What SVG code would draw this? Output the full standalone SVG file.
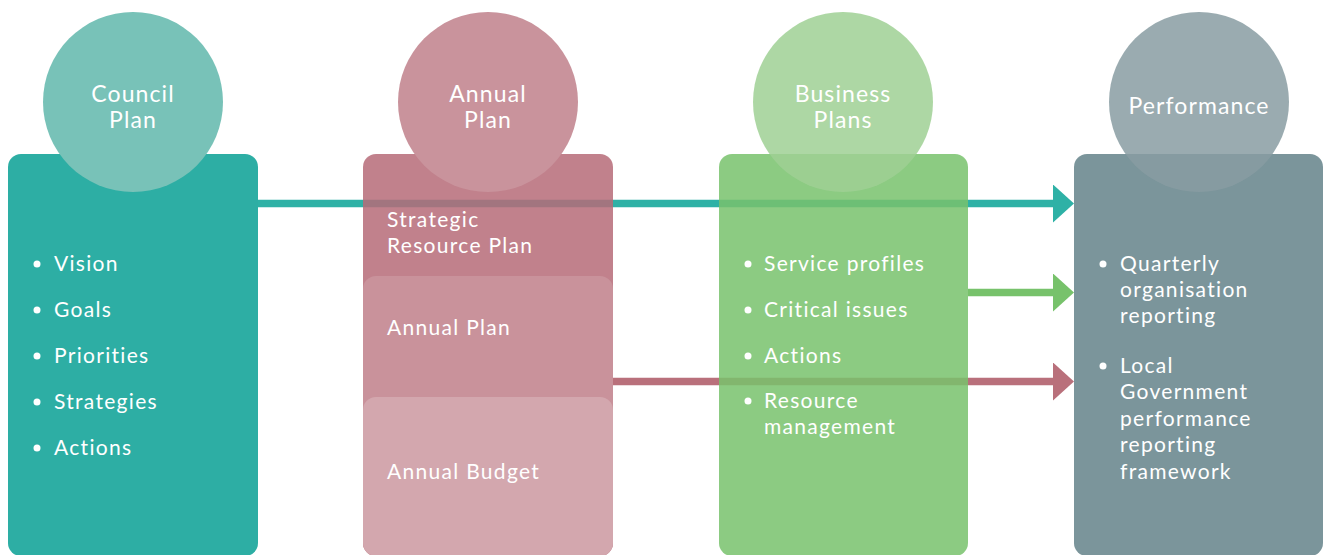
<svg xmlns="http://www.w3.org/2000/svg" width="1325" height="555" viewBox="0 0 1325 555">
<style>
text{font-family:Lato,"Noto Sans",sans-serif;fill:#ffffff}
.title{font-size:23px;text-anchor:middle;letter-spacing:1.1px}
.item{font-size:21px;letter-spacing:1.3px}
.conn{fill:none;stroke-width:7.5}
</style>
<defs>
<marker id="hTeal" viewBox="0 0 21 38" refX="1" refY="19" markerWidth="21" markerHeight="38" markerUnits="userSpaceOnUse" orient="auto"><path d="M0,0 L21,19 L0,38 Z" fill="#2eb1a6"/></marker>
<marker id="hGreen" viewBox="0 0 21 38" refX="1" refY="19" markerWidth="21" markerHeight="38" markerUnits="userSpaceOnUse" orient="auto"><path d="M0,0 L21,19 L0,38 Z" fill="#77c26b"/></marker>
<marker id="hRed" viewBox="0 0 21 38" refX="1" refY="19" markerWidth="21" markerHeight="38" markerUnits="userSpaceOnUse" orient="auto"><path d="M0,0 L21,19 L0,38 Z" fill="#b9707b"/></marker>
</defs>
<g id="connectors">
<line class="conn" x1="258" y1="203.5" x2="1054" y2="203.5" stroke="#2eb1a6" marker-end="url(#hTeal)"/>
<line class="conn" x1="968" y1="292.5" x2="1054" y2="292.5" stroke="#77c26b" marker-end="url(#hGreen)"/>
<line class="conn" x1="613" y1="381.5" x2="1054" y2="381.5" stroke="#b9707b" marker-end="url(#hRed)"/>
</g>
<g id="council-plan">
<rect x="8" y="154" width="250" height="402" rx="13" fill="#2daea4"/>
<circle cx="133" cy="102" r="90" fill="#78c2b8"/>
<text class="title" x="133" y="102">Council</text>
<text class="title" x="133" y="128">Plan</text>
<circle cx="37" cy="264" r="3.5" fill="#fff"/><text class="item" x="54" y="271">Vision</text>
<circle cx="37" cy="310" r="3.5" fill="#fff"/><text class="item" x="54" y="317">Goals</text>
<circle cx="37" cy="356" r="3.5" fill="#fff"/><text class="item" x="54" y="363">Priorities</text>
<circle cx="37" cy="402" r="3.5" fill="#fff"/><text class="item" x="54" y="409">Strategies</text>
<circle cx="37" cy="448" r="3.5" fill="#fff"/><text class="item" x="54" y="455">Actions</text>
</g>
<g id="annual-plan">
<rect x="363" y="154" width="250" height="402" rx="13" fill="#b66b78" fill-opacity="0.85"/>
<rect x="363" y="276" width="250" height="280" rx="13" fill="#c9929b"/>
<rect x="363" y="397" width="250" height="159" rx="13" fill="#d3a7ae"/>
<circle cx="488" cy="102" r="90" fill="#c9939c"/>
<text class="title" x="488" y="102">Annual</text>
<text class="title" x="488" y="128">Plan</text>
<text class="item" x="387" y="227">Strategic</text>
<text class="item" x="387" y="253">Resource Plan</text>
<text class="item" x="387" y="335">Annual Plan</text>
<text class="item" x="387" y="479">Annual Budget</text>
</g>
<g id="business-plans">
<rect x="719" y="154" width="249" height="402" rx="13" fill="#78c26c" fill-opacity="0.85"/>
<circle cx="843" cy="102" r="90" fill="#9fd094" fill-opacity="0.85"/>
<text class="title" x="843" y="102">Business</text>
<text class="title" x="843" y="128">Plans</text>
<circle cx="748" cy="264" r="3.5" fill="#fff"/><text class="item" x="764" y="271">Service profiles</text>
<circle cx="748" cy="310" r="3.5" fill="#fff"/><text class="item" x="764" y="317">Critical issues</text>
<circle cx="748" cy="356" r="3.5" fill="#fff"/><text class="item" x="764" y="363">Actions</text>
<circle cx="748" cy="401" r="3.5" fill="#fff"/><text class="item" x="764" y="408">Resource</text>
<text class="item" x="764" y="434">management</text>
</g>
<g id="performance">
<rect x="1074" y="154" width="249" height="402" rx="13" fill="#7b959b"/>
<circle cx="1199" cy="102" r="90" fill="#889ca2" fill-opacity="0.85"/>
<text class="title" x="1199" y="114">Performance</text>
<circle cx="1103" cy="264" r="3.5" fill="#fff"/>
<text class="item" x="1120" y="271">Quarterly</text>
<text class="item" x="1120" y="297">organisation</text>
<text class="item" x="1120" y="323">reporting</text>
<circle cx="1103" cy="366" r="3.5" fill="#fff"/>
<text class="item" x="1120" y="373">Local</text>
<text class="item" x="1120" y="399">Government</text>
<text class="item" x="1120" y="426">performance</text>
<text class="item" x="1120" y="452">reporting</text>
<text class="item" x="1120" y="479">framework</text>
</g>
</svg>
